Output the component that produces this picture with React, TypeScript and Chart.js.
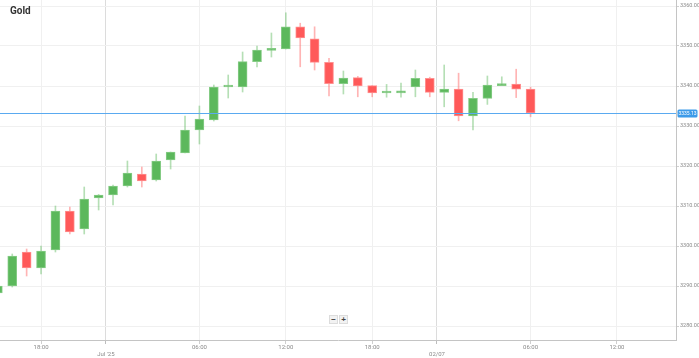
import React, { useEffect, useRef } from "react";
import { Chart, registerables } from "chart.js";

Chart.register(...registerables);

// Hourly candles, 30/06 15:00 -> 02/07 06:00 (trading break skipped)
const candleTimes = [
  "30/06 15:00", "30/06 16:00", "30/06 17:00", "30/06 18:00", "30/06 19:00", "30/06 20:00", "30/06 21:00", "30/06 22:00",
  "01/07 00:00", "01/07 01:00", "01/07 02:00", "01/07 03:00", "01/07 04:00", "01/07 05:00", "01/07 06:00", "01/07 07:00",
  "01/07 08:00", "01/07 09:00", "01/07 10:00", "01/07 11:00", "01/07 12:00", "01/07 13:00", "01/07 14:00", "01/07 15:00",
  "01/07 16:00", "01/07 17:00", "01/07 18:00", "01/07 19:00", "01/07 20:00", "01/07 21:00", "01/07 22:00",
  "02/07 00:00", "02/07 01:00", "02/07 02:00", "02/07 03:00", "02/07 04:00", "02/07 05:00", "02/07 06:00",
];

const opens = [
  3288.25, 3290.0, 3298.5, 3294.5, 3299.0, 3308.75, 3304.25, 3312.0,
  3312.75, 3315.0, 3318.0, 3316.5, 3321.5, 3323.3, 3329.0, 3331.5,
  3339.75, 3339.8, 3346.1, 3348.9, 3349.25, 3354.8, 3351.8, 3345.9,
  3340.6, 3342.1, 3340.1, 3338.25, 3338.25, 3339.8, 3341.9,
  3338.4, 3339.25, 3332.5, 3336.9, 3340.1, 3340.5, 3339.2,
];
const closes = [
  3290.0, 3297.5, 3294.5, 3298.75, 3308.75, 3303.5, 3311.75, 3312.75,
  3315.0, 3318.25, 3316.25, 3321.25, 3323.5, 3329.0, 3331.75, 3339.75,
  3339.9, 3346.1, 3349.0, 3349.25, 3354.8, 3352.0, 3345.9, 3340.6,
  3342.0, 3340.0, 3338.25, 3338.4, 3338.8, 3341.9, 3338.4,
  3339.25, 3332.5, 3336.9, 3340.25, 3340.4, 3339.2, 3333.3,
];
const highs = [
  3290.5, 3298.0, 3299.25, 3300.0, 3310.0, 3309.75, 3314.75, 3312.9,
  3315.25, 3321.25, 3319.75, 3323.0, 3323.5, 3332.5, 3335.0, 3340.25,
  3342.75, 3348.5, 3350.0, 3353.25, 3358.3, 3355.7, 3354.8, 3346.9,
  3343.75, 3342.4, 3340.1, 3340.4, 3340.7, 3344.0, 3342.2,
  3345.25, 3343.2, 3338.4, 3342.5, 3342.3, 3344.2, 3339.7,
];
const lows = [
  3287.75, 3289.75, 3292.5, 3293.0, 3298.5, 3303.0, 3303.0, 3309.0,
  3310.25, 3314.75, 3314.75, 3316.25, 3319.25, 3323.25, 3325.5, 3331.25,
  3337.0, 3338.5, 3344.75, 3347.25, 3349.25, 3344.8, 3344.0, 3337.5,
  3338.0, 3337.3, 3337.3, 3337.2, 3337.2, 3337.3, 3337.3,
  3334.8, 3331.3, 3329.0, 3335.4, 3340.1, 3337.1, 3332.3,
];

const yTickValues = [3280, 3290, 3300, 3310, 3320, 3330, 3340, 3350, 3360];
const xTickPositions = [3, 7.5, 14, 20, 26, 30.5, 37, 43];
const xTickLabels = ["18:00", "Jul '25", "06:00", "12:00", "18:00", "02/07", "06:00", "12:00"];
const dayBoundaries = [7.5, 30.5];
const currentPriceLabel = "3335.13";

const GREEN = "#5cb85c";
const GREEN_EDGE = "#86cc86";
const RED = "#ff5959";
const RED_EDGE = "#ff9191";
const GREEN_WICK = "rgba(92,184,92,0.45)";
const RED_WICK = "rgba(255,89,89,0.45)";

const priceLinePlugin = {
  id: "priceLine",
  afterDatasetsDraw(chart: any) {
    const { ctx, chartArea, scales } = chart;
    const y = scales.y;
    const py = Math.round(y.getPixelForValue(closes[closes.length - 1]));
    ctx.save();
    ctx.fillStyle = "#5aaaf0";
    ctx.fillRect(chartArea.left, py, chartArea.right - chartArea.left, 1);
    const x0 = chartArea.right + 1.5;
    const w = 20;
    const h = 8;
    ctx.fillStyle = "#3d9be9";
    ctx.beginPath();
    ctx.roundRect(x0, py + 0.5 - h / 2, w, h, 1.5);
    ctx.fill();
    ctx.fillStyle = "#ffffff";
    ctx.font = "5px Roboto, Arial, sans-serif";
    ctx.textBaseline = "middle";
    ctx.textAlign = "center";
    ctx.fillText(currentPriceLabel, x0 + w / 2, py + 0.8);
    ctx.restore();
  },
};

export default function App() {
  const canvasRef = useRef<HTMLCanvasElement | null>(null);

  useEffect(() => {
    if (!canvasRef.current) return;
    const up = closes.map((c, i) => c >= opens[i]);
    const bodies = opens.map((o, i) => ({ x: i, y: [o, closes[i]] }));
    const wicks = lows.map((l, i) => ({ x: i, y: [l, highs[i]] }));

    const chart = new Chart(canvasRef.current, {
      type: "bar",
      data: {
        labels: candleTimes,
        datasets: [
          {
            label: "wick",
            data: wicks as any,
            backgroundColor: up.map((u) => (u ? GREEN_WICK : RED_WICK)),
            borderWidth: 0,
            barThickness: 1,
            grouped: false,
            order: 2,
          } as any,
          {
            label: "body",
            data: bodies as any,
            backgroundColor: up.map((u) => (u ? GREEN : RED)),
            borderColor: up.map((u) => (u ? GREEN_EDGE : RED_EDGE)),
            borderWidth: 1,
            borderSkipped: false,
            barThickness: 9,
            minBarLength: 2,
            grouped: false,
            order: 1,
          } as any,
        ],
      },
      options: {
        responsive: false,
        animation: false,
        layout: { padding: 0 },
        plugins: {
          legend: { display: false },
          tooltip: { enabled: false },
          title: { display: false },
        },
        scales: {
          x: {
            type: "linear",
            position: "bottom",
            offset: false,
            min: 0.15,
            max: 47.1,
            afterBuildTicks: (scale: any) => {
              scale.ticks = xTickPositions.map((v) => ({ value: v }));
            },
            afterFit: (scale: any) => {
              scale.height = 18;
              scale.paddingLeft = 0;
              scale.paddingRight = 0;
            },
            ticks: {
              autoSkip: false,
              maxRotation: 0,
              padding: 0,
              color: "#8a8a8a",
              font: { size: 6, family: "Roboto, Arial, sans-serif" },
              callback: (value: any) => {
                const idx = xTickPositions.indexOf(Number(value));
                if (idx < 0) return "";
                const lbl = xTickLabels[idx];
                return dayBoundaries.includes(Number(value)) ? ["", lbl] : lbl;
              },
            },
            grid: {
              offset: false,
              color: (c: any) =>
                c.tick && dayBoundaries.includes(c.tick.value) ? "#dcdcdc" : "#f0f0f0",
              tickColor: (c: any) =>
                c.tick && dayBoundaries.includes(c.tick.value) ? "#bdbdbd" : "#cfcfcf",
              tickLength: 4,
            },
            border: { color: "#c4c4c4", width: 1 },
          },
          y: {
            type: "linear",
            position: "right",
            min: 3276.5,
            max: 3361.5,
            afterBuildTicks: (scale: any) => {
              scale.ticks = yTickValues.map((v) => ({ value: v }));
            },
            afterFit: (scale: any) => {
              scale.width = 23;
              scale.paddingTop = 0;
              scale.paddingBottom = 0;
            },
            ticks: {
              padding: 1,
              color: "#8a8a8a",
              font: { size: 5.5, family: "Roboto, Arial, sans-serif" },
              callback: (value: any) => Number(value).toFixed(2),
            },
            grid: {
              color: "#f0f0f0",
              tickColor: "#cfcfcf",
              tickLength: 3,
            },
            border: { color: "#c4c4c4", width: 1 },
          },
        },
      },
      plugins: [priceLinePlugin],
    });
    return () => chart.destroy();
  }, []);

  const btn: React.CSSProperties = {
    position: "absolute",
    top: 315,
    width: 9,
    height: 9,
    background: "#f2f2f2",
    border: "1px solid #dcdcdc",
    boxSizing: "border-box",
    fontFamily: "Arial, sans-serif",
    fontSize: 8,
    fontWeight: "bold",
    lineHeight: "7px",
    textAlign: "center",
    color: "#444",
  };

  return (
    <div
      style={{
        position: "fixed",
        left: 0,
        top: 0,
        width: 699,
        height: 358,
        background: "#ffffff",
      }}
    >
      <canvas ref={canvasRef} width={699} height={358} style={{ display: "block" }} />
      <div
        style={{
          position: "absolute",
          left: 10,
          top: 5,
          fontFamily: "Roboto, Arial, sans-serif",
          fontWeight: "bold",
          fontSize: 10,
          color: "#333",
        }}
      >
        Gold
      </div>
      <div style={{ ...btn, left: 329 }}>−</div>
      <div style={{ ...btn, left: 339 }}>+</div>
    </div>
  );
}
